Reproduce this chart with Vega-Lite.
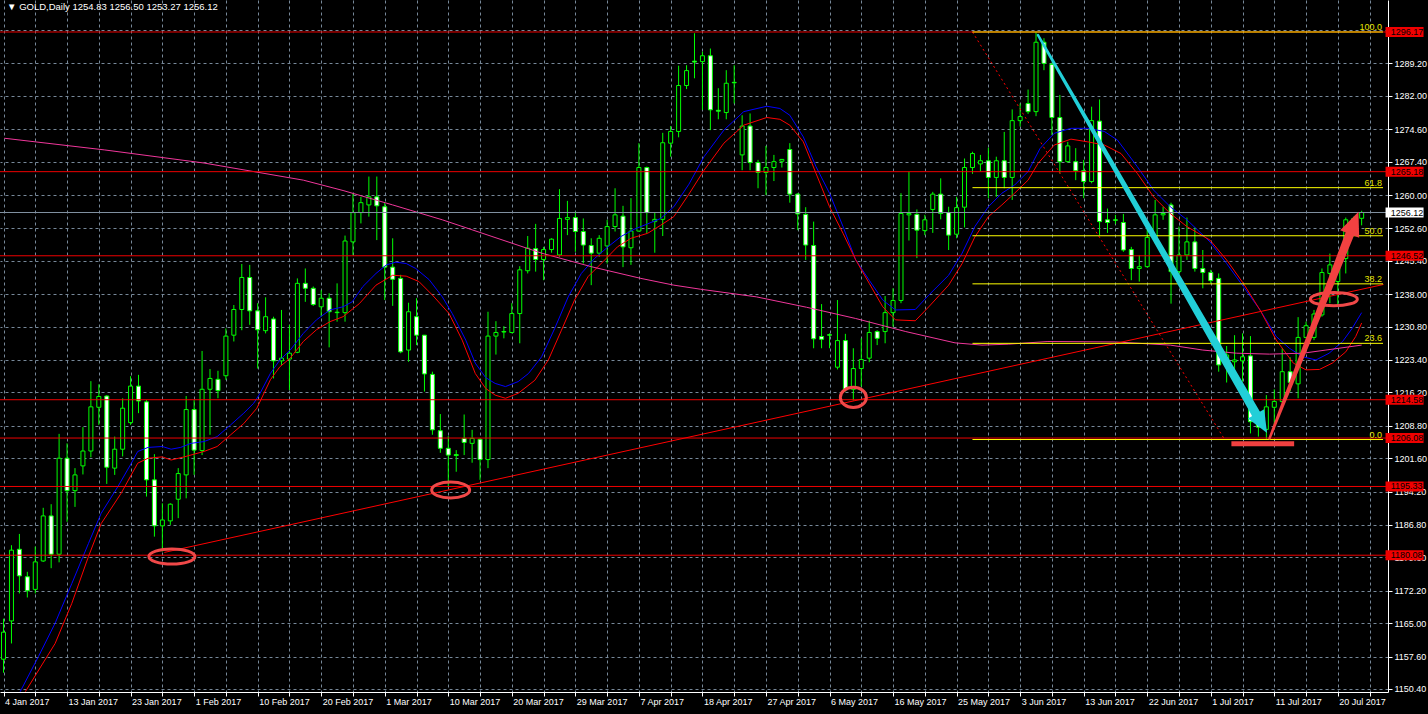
{
"$schema": "https://vega.github.io/schema/vega-lite/v6.json",
"width": 1388, "height": 692,
"autosize": {"type": "none"},
"padding": {"left": 0, "top": 0, "right": 40, "bottom": 22},
"background": "#000000",
"config": {"view": {"stroke": null}, "font": "Liberation Sans"},
"resolve": {"scale": {"color": "independent", "size": "independent"}},
"datasets": {
"candles": [
{"i":0,"o":1157,"h":1166,"l":1154,"c":1163},
{"i":1,"o":1165.5,"h":1182.3,"l":1160.5,"c":1181.2},
{"i":2,"o":1181.4,"h":1184.8,"l":1171.6,"c":1175.5},
{"i":3,"o":1175.3,"h":1176.4,"l":1170.7,"c":1172.2},
{"i":4,"o":1172.5,"h":1182.0,"l":1171.6,"c":1178.6},
{"i":5,"o":1178.8,"h":1190.6,"l":1178.6,"c":1188.8},
{"i":6,"o":1188.8,"h":1191.4,"l":1177.2,"c":1180.3},
{"i":7,"o":1180.3,"h":1207.0,"l":1178.5,"c":1201.6},
{"i":8,"o":1201.6,"h":1204.9,"l":1187.5,"c":1194.4},
{"i":9,"o":1194.4,"h":1199.4,"l":1190.8,"c":1197.9},
{"i":10,"o":1199.9,"h":1208.5,"l":1198.0,"c":1203.2},
{"i":11,"o":1203.2,"h":1218.7,"l":1201.8,"c":1213.0},
{"i":12,"o":1212.9,"h":1218.0,"l":1209.0,"c":1215.3},
{"i":13,"o":1215.4,"h":1215.6,"l":1195.9,"c":1199.6},
{"i":14,"o":1199.4,"h":1206.4,"l":1197.9,"c":1203.6},
{"i":15,"o":1203.6,"h":1214.9,"l":1202.0,"c":1212.7},
{"i":16,"o":1209.5,"h":1219.8,"l":1209.0,"c":1217.6},
{"i":17,"o":1217.6,"h":1220.1,"l":1211.6,"c":1214.3},
{"i":18,"o":1214.1,"h":1214.5,"l":1193.1,"c":1196.8},
{"i":19,"o":1196.8,"h":1202.5,"l":1184.2,"c":1186.6},
{"i":20,"o":1186.6,"h":1191.6,"l":1180.9,"c":1187.9},
{"i":21,"o":1187.7,"h":1191.6,"l":1186.8,"c":1191.4},
{"i":22,"o":1192.5,"h":1199.4,"l":1188.3,"c":1198.2},
{"i":23,"o":1197.9,"h":1215.4,"l":1192.7,"c":1212.4},
{"i":24,"o":1212.4,"h":1214.5,"l":1197.9,"c":1203.4},
{"i":25,"o":1203.3,"h":1225.4,"l":1202.3,"c":1216.9},
{"i":26,"o":1216.9,"h":1221.4,"l":1206.8,"c":1219.3},
{"i":27,"o":1219.1,"h":1221.0,"l":1214.9,"c":1216.6},
{"i":28,"o":1219.9,"h":1230.4,"l":1219.0,"c":1228.7},
{"i":29,"o":1228.9,"h":1235.6,"l":1227.5,"c":1234.6},
{"i":30,"o":1234.6,"h":1244.7,"l":1230.0,"c":1241.7},
{"i":31,"o":1241.7,"h":1244.5,"l":1231.2,"c":1234.3},
{"i":32,"o":1234.3,"h":1236.0,"l":1221.5,"c":1230.1},
{"i":33,"o":1229.9,"h":1237.3,"l":1229.3,"c":1233.0},
{"i":34,"o":1232.5,"h":1233.0,"l":1219.3,"c":1223.2},
{"i":35,"o":1223.2,"h":1234.5,"l":1222.3,"c":1223.8},
{"i":36,"o":1223.6,"h":1231.2,"l":1216.7,"c":1224.9},
{"i":37,"o":1225.1,"h":1241.5,"l":1224.9,"c":1240.4},
{"i":38,"o":1240.4,"h":1243.7,"l":1236.3,"c":1239.3},
{"i":39,"o":1239.3,"h":1239.7,"l":1235.4,"c":1235.7},
{"i":40,"o":1235.2,"h":1238.9,"l":1233.0,"c":1237.1},
{"i":41,"o":1237.1,"h":1238.2,"l":1226.2,"c":1234.1},
{"i":42,"o":1234.0,"h":1240.4,"l":1231.9,"c":1233.9},
{"i":43,"o":1233.9,"h":1251.0,"l":1231.9,"c":1249.8},
{"i":44,"o":1249.6,"h":1260.4,"l":1246.7,"c":1256.1},
{"i":45,"o":1256.1,"h":1259.6,"l":1253.7,"c":1258.3},
{"i":46,"o":1257.8,"h":1264.1,"l":1255.2,"c":1259.6},
{"i":47,"o":1259.6,"h":1264.1,"l":1250.0,"c":1257.6},
{"i":48,"o":1257.4,"h":1258.3,"l":1236.7,"c":1244.0},
{"i":49,"o":1244.0,"h":1250.4,"l":1235.4,"c":1241.3},
{"i":50,"o":1241.5,"h":1242.3,"l":1224.9,"c":1225.2},
{"i":51,"o":1225.6,"h":1236.1,"l":1223.0,"c":1234.1},
{"i":52,"o":1233.0,"h":1237.1,"l":1226.7,"c":1228.9},
{"i":53,"o":1228.9,"h":1228.9,"l":1216.4,"c":1220.3},
{"i":54,"o":1220.2,"h":1220.8,"l":1206.8,"c":1207.9},
{"i":55,"o":1207.7,"h":1211.4,"l":1202.8,"c":1203.8},
{"i":56,"o":1203.8,"h":1206.5,"l":1195.3,"c":1202.3},
{"i":57,"o":1202.4,"h":1203.4,"l":1198.6,"c":1202.2},
{"i":58,"o":1206.0,"h":1211.3,"l":1202.3,"c":1205.1},
{"i":59,"o":1204.9,"h":1207.9,"l":1200.6,"c":1206.0},
{"i":60,"o":1205.8,"h":1206.0,"l":1196.8,"c":1201.3},
{"i":61,"o":1201.3,"h":1234.1,"l":1199.4,"c":1228.7},
{"i":62,"o":1228.7,"h":1232.0,"l":1224.6,"c":1229.5},
{"i":63,"o":1229.7,"h":1230.9,"l":1228.2,"c":1229.6},
{"i":64,"o":1229.5,"h":1236.0,"l":1229.3,"c":1233.7},
{"i":65,"o":1233.7,"h":1244.2,"l":1227.1,"c":1243.4},
{"i":66,"o":1243.2,"h":1250.9,"l":1242.6,"c":1248.2},
{"i":67,"o":1248.1,"h":1253.6,"l":1243.0,"c":1245.7},
{"i":68,"o":1245.7,"h":1248.5,"l":1241.1,"c":1247.9},
{"i":69,"o":1247.9,"h":1250.4,"l":1247.2,"c":1250.2},
{"i":70,"o":1246.7,"h":1261.3,"l":1246.3,"c":1254.8},
{"i":71,"o":1254.6,"h":1258.7,"l":1251.1,"c":1255.0},
{"i":72,"o":1255.0,"h":1256.3,"l":1247.4,"c":1251.9},
{"i":73,"o":1251.9,"h":1254.8,"l":1244.8,"c":1248.9},
{"i":74,"o":1248.8,"h":1250.4,"l":1240.0,"c":1247.1},
{"i":75,"o":1247.1,"h":1251.1,"l":1246.3,"c":1250.4},
{"i":76,"o":1248.7,"h":1254.5,"l":1244.8,"c":1253.0},
{"i":77,"o":1253.0,"h":1261.5,"l":1251.9,"c":1255.6},
{"i":78,"o":1255.3,"h":1257.6,"l":1244.0,"c":1248.5},
{"i":79,"o":1248.3,"h":1259.3,"l":1244.5,"c":1252.0},
{"i":80,"o":1252.0,"h":1271.5,"l":1251.9,"c":1266.1},
{"i":81,"o":1266.1,"h":1266.3,"l":1251.5,"c":1256.1},
{"i":82,"o":1254.1,"h":1256.1,"l":1247.2,"c":1254.6},
{"i":83,"o":1254.6,"h":1273.8,"l":1250.9,"c":1271.6},
{"i":84,"o":1271.5,"h":1275.3,"l":1268.5,"c":1274.1},
{"i":85,"o":1274.1,"h":1288.7,"l":1272.8,"c":1284.3},
{"i":86,"o":1284.3,"h":1288.8,"l":1283.5,"c":1287.6},
{"i":87,"o":1289.7,"h":1295.9,"l":1285.9,"c":1289.5},
{"i":88,"o":1289.6,"h":1291.8,"l":1278.9,"c":1290.9},
{"i":89,"o":1290.9,"h":1292.5,"l":1274.4,"c":1278.9},
{"i":90,"o":1278.8,"h":1283.7,"l":1276.8,"c":1278.6},
{"i":91,"o":1278.3,"h":1287.7,"l":1276.8,"c":1284.8},
{"i":92,"o":1285.0,"h":1288.8,"l":1280.3,"c":1284.9},
{"i":93,"o":1268.9,"h":1277.7,"l":1265.5,"c":1275.3},
{"i":94,"o":1275.3,"h":1278.1,"l":1265.5,"c":1267.2},
{"i":95,"o":1267.2,"h":1267.8,"l":1261.5,"c":1265.0},
{"i":96,"o":1265.0,"h":1270.9,"l":1260.0,"c":1266.1},
{"i":97,"o":1266.1,"h":1268.9,"l":1263.1,"c":1267.4},
{"i":98,"o":1267.5,"h":1268.0,"l":1266.1,"c":1267.9},
{"i":99,"o":1270.1,"h":1271.5,"l":1258.3,"c":1260.2},
{"i":100,"o":1260.2,"h":1260.4,"l":1252.2,"c":1255.8},
{"i":101,"o":1255.7,"h":1257.3,"l":1245.6,"c":1248.9},
{"i":102,"o":1248.8,"h":1254.1,"l":1226.0,"c":1228.1},
{"i":103,"o":1228.6,"h":1235.8,"l":1226.0,"c":1228.0},
{"i":104,"o":1229.0,"h":1229.3,"l":1226.0,"c":1228.9},
{"i":105,"o":1221.8,"h":1236.7,"l":1221.3,"c":1227.7},
{"i":106,"o":1227.7,"h":1229.2,"l":1216.4,"c":1216.9},
{"i":107,"o":1216.9,"h":1226.0,"l":1214.4,"c":1221.5},
{"i":108,"o":1221.5,"h":1228.2,"l":1217.5,"c":1223.5},
{"i":109,"o":1223.8,"h":1232.1,"l":1222.9,"c":1229.5},
{"i":110,"o":1229.7,"h":1230.0,"l":1226.7,"c":1228.2},
{"i":111,"o":1229.7,"h":1237.6,"l":1227.1,"c":1233.9},
{"i":112,"o":1233.9,"h":1239.3,"l":1230.8,"c":1236.6},
{"i":113,"o":1236.6,"h":1260.4,"l":1236.0,"c":1255.9},
{"i":114,"o":1255.6,"h":1265.2,"l":1249.9,"c":1255.9},
{"i":115,"o":1255.7,"h":1256.8,"l":1246.0,"c":1252.2},
{"i":116,"o":1252.1,"h":1255.6,"l":1251.1,"c":1254.5},
{"i":117,"o":1256.8,"h":1260.7,"l":1251.6,"c":1260.2},
{"i":118,"o":1260.2,"h":1263.7,"l":1254.6,"c":1255.9},
{"i":119,"o":1256.1,"h":1257.4,"l":1247.8,"c":1251.1},
{"i":120,"o":1251.3,"h":1259.6,"l":1250.4,"c":1257.2},
{"i":121,"o":1257.3,"h":1268.1,"l":1252.8,"c":1266.1},
{"i":122,"o":1266.1,"h":1269.6,"l":1264.7,"c":1269.2},
{"i":123,"o":1266.9,"h":1268.9,"l":1265.2,"c":1267.6},
{"i":124,"o":1267.6,"h":1270.5,"l":1259.3,"c":1263.9},
{"i":125,"o":1263.9,"h":1268.5,"l":1259.6,"c":1267.6},
{"i":126,"o":1267.6,"h":1274.0,"l":1261.5,"c":1263.9},
{"i":127,"o":1263.9,"h":1279.0,"l":1258.9,"c":1276.5},
{"i":128,"o":1276.5,"h":1280.3,"l":1275.2,"c":1277.4},
{"i":129,"o":1280.3,"h":1283.4,"l":1278.0,"c":1278.5},
{"i":130,"o":1278.5,"h":1296.1,"l":1277.5,"c":1293.9},
{"i":131,"o":1293.9,"h":1294.8,"l":1287.7,"c":1289.2},
{"i":132,"o":1289.0,"h":1289.4,"l":1273.3,"c":1277.2},
{"i":133,"o":1277.2,"h":1282.2,"l":1264.8,"c":1267.4},
{"i":134,"o":1267.4,"h":1271.8,"l":1267.2,"c":1270.9},
{"i":135,"o":1267.4,"h":1270.4,"l":1263.3,"c":1265.4},
{"i":136,"o":1265.4,"h":1267.8,"l":1259.3,"c":1263.0},
{"i":137,"o":1263.0,"h":1279.6,"l":1262.6,"c":1276.5},
{"i":138,"o":1276.4,"h":1281.2,"l":1251.1,"c":1254.1},
{"i":139,"o":1254.5,"h":1257.0,"l":1251.6,"c":1253.9},
{"i":140,"o":1254.5,"h":1255.6,"l":1253.6,"c":1254.4},
{"i":141,"o":1253.9,"h":1255.8,"l":1247.4,"c":1247.8},
{"i":142,"o":1247.9,"h":1248.5,"l":1241.1,"c":1243.7},
{"i":143,"o":1243.7,"h":1246.7,"l":1240.8,"c":1244.1},
{"i":144,"o":1244.1,"h":1253.0,"l":1243.9,"c":1250.6},
{"i":145,"o":1250.6,"h":1258.9,"l":1249.3,"c":1255.6},
{"i":146,"o":1255.6,"h":1257.4,"l":1254.5,"c":1255.9},
{"i":147,"o":1257.8,"h":1258.3,"l":1235.9,"c":1243.0},
{"i":148,"o":1243.0,"h":1253.0,"l":1242.3,"c":1246.7},
{"i":149,"o":1246.7,"h":1255.0,"l":1245.6,"c":1249.6},
{"i":150,"o":1249.6,"h":1252.8,"l":1243.0,"c":1243.7},
{"i":151,"o":1243.7,"h":1247.8,"l":1239.3,"c":1242.8},
{"i":152,"o":1242.8,"h":1243.4,"l":1240.4,"c":1241.0},
{"i":153,"o":1241.5,"h":1242.6,"l":1220.8,"c":1222.3},
{"i":154,"o":1222.5,"h":1226.5,"l":1218.4,"c":1224.5},
{"i":155,"o":1223.0,"h":1228.9,"l":1220.4,"c":1223.4},
{"i":156,"o":1223.2,"h":1229.3,"l":1218.6,"c":1224.1},
{"i":157,"o":1224.3,"h":1228.7,"l":1207.1,"c":1209.7},
{"i":158,"o":1209.7,"h":1212.0,"l":1206.4,"c":1208.5},
{"i":159,"o":1208.0,"h":1215.6,"l":1205.8,"c":1213.0},
{"i":160,"o":1212.9,"h":1216.9,"l":1208.2,"c":1214.2},
{"i":161,"o":1214.2,"h":1226.0,"l":1213.9,"c":1220.8},
{"i":162,"o":1220.8,"h":1224.0,"l":1216.4,"c":1218.4},
{"i":163,"o":1218.1,"h":1232.9,"l":1214.9,"c":1228.4},
{"i":164,"o":1228.4,"h":1231.9,"l":1228.2,"c":1231.0},
{"i":165,"o":1228.4,"h":1234.5,"l":1227.8,"c":1233.6},
{"i":166,"o":1233.4,"h":1243.7,"l":1233.0,"c":1242.8},
{"i":167,"o":1242.6,"h":1247.0,"l":1236.0,"c":1244.5},
{"i":168,"o":1240.8,"h":1244.8,"l":1235.6,"c":1244.5},
{"i":169,"o":1245.9,"h":1255.0,"l":1242.6,"c":1254.5},
{"i":170,"o":1254.5,"h":1255.2,"l":1254.3,"c":1254.8},
{"i":171,"o":1254.83,"h":1256.5,"l":1253.27,"c":1256.12}
],
"ma": [
{"s":"fast","i":2.1,"v":1149.8},{"s":"fast","i":4.4,"v":1157.6},{"s":"fast","i":6.5,"v":1165.0},{"s":"fast","i":8.6,"v":1173.8},{"s":"fast","i":10.7,"v":1182.7},{"s":"fast","i":12.3,"v":1189.4},{"s":"fast","i":14.4,"v":1195.3},{"s":"fast","i":16.1,"v":1200.5},{"s":"fast","i":16.9,"v":1203.1},{"s":"fast","i":18.2,"v":1204.0},{"s":"fast","i":20.0,"v":1204.2},{"s":"fast","i":21.1,"v":1203.6},{"s":"fast","i":22.3,"v":1204.0},{"s":"fast","i":23.6,"v":1204.9},{"s":"fast","i":25.25,"v":1205.3},{"s":"fast","i":26.9,"v":1206.4},{"s":"fast","i":28.6,"v":1209.0},{"s":"fast","i":30.25,"v":1211.6},{"s":"fast","i":31.5,"v":1213.8},{"s":"fast","i":32.3,"v":1216.0},{"s":"fast","i":33.6,"v":1220.4},{"s":"fast","i":34.8,"v":1223.4},{"s":"fast","i":36.1,"v":1225.6},{"s":"fast","i":37.75,"v":1229.3},{"s":"fast","i":39.4,"v":1232.3},{"s":"fast","i":41.1,"v":1234.5},{"s":"fast","i":42.75,"v":1235.2},{"s":"fast","i":43.9,"v":1236.3},{"s":"fast","i":45.25,"v":1239.7},{"s":"fast","i":46.9,"v":1242.6},{"s":"fast","i":48.2,"v":1244.5},{"s":"fast","i":49.4,"v":1245.1},{"s":"fast","i":50.7,"v":1244.8},{"s":"fast","i":51.9,"v":1243.7},{"s":"fast","i":53.6,"v":1241.2},{"s":"fast","i":55.25,"v":1237.4},{"s":"fast","i":56.5,"v":1233.7},{"s":"fast","i":58.2,"v":1227.8},{"s":"fast","i":59.4,"v":1222.7},{"s":"fast","i":60.7,"v":1219.5},{"s":"fast","i":61.9,"v":1218.2},{"s":"fast","i":63.2,"v":1217.5},{"s":"fast","i":64.8,"v":1218.6},{"s":"fast","i":66.1,"v":1220.4},{"s":"fast","i":67.75,"v":1224.1},{"s":"fast","i":69.4,"v":1230.4},{"s":"fast","i":71.1,"v":1237.4},{"s":"fast","i":72.75,"v":1242.6},{"s":"fast","i":74.4,"v":1245.9},{"s":"fast","i":76.1,"v":1248.5},{"s":"fast","i":77.75,"v":1250.8},{"s":"fast","i":79.4,"v":1252.4},{"s":"fast","i":81.1,"v":1253.6},{"s":"fast","i":82.75,"v":1254.8},{"s":"fast","i":84.4,"v":1257.4},{"s":"fast","i":86.3,"v":1262.4},{"s":"fast","i":88.2,"v":1268.5},{"s":"fast","i":90.7,"v":1274.4},{"s":"fast","i":93.2,"v":1278.5},{"s":"fast","i":96.1,"v":1279.7},{"s":"fast","i":97.75,"v":1279.2},{"s":"fast","i":99,"v":1277.7},{"s":"fast","i":100.7,"v":1272.9},{"s":"fast","i":102.3,"v":1266.3},{"s":"fast","i":104,"v":1260.4},{"s":"fast","i":105.7,"v":1253.0},{"s":"fast","i":107.3,"v":1245.6},{"s":"fast","i":109,"v":1241.1},{"s":"fast","i":110.7,"v":1236.7},{"s":"fast","i":112.3,"v":1234.5},{"s":"fast","i":114.8,"v":1234.6},{"s":"fast","i":116.5,"v":1237.8},{"s":"fast","i":119,"v":1242.2},{"s":"fast","i":120.7,"v":1247.1},{"s":"fast","i":122.3,"v":1253.0},{"s":"fast","i":124,"v":1257.4},{"s":"fast","i":125.7,"v":1260.4},{"s":"fast","i":127.3,"v":1262.2},{"s":"fast","i":129,"v":1265.2},{"s":"fast","i":130.5,"v":1270.3},{"s":"fast","i":132.3,"v":1273.7},{"s":"fast","i":134.4,"v":1274.8},{"s":"fast","i":136.5,"v":1274.8},{"s":"fast","i":138.6,"v":1274.1},{"s":"fast","i":140.25,"v":1272.2},{"s":"fast","i":142.75,"v":1266.3},{"s":"fast","i":144.8,"v":1261.1},{"s":"fast","i":146.9,"v":1257.4},{"s":"fast","i":149,"v":1254.5},{"s":"fast","i":151.9,"v":1249.6},{"s":"fast","i":154,"v":1244.8},{"s":"fast","i":156.1,"v":1239.7},{"s":"fast","i":158.2,"v":1234.5},{"s":"fast","i":160.25,"v":1228.6},{"s":"fast","i":161.9,"v":1226.0},{"s":"fast","i":163.6,"v":1224.1},{"s":"fast","i":165.25,"v":1223.4},{"s":"fast","i":166.9,"v":1224.9},{"s":"fast","i":168.6,"v":1227.5},{"s":"fast","i":169.8,"v":1230.4},{"s":"fast","i":171,"v":1233.9},
{"s":"slow","i":2.75,"v":1149.8},{"s":"slow","i":6.5,"v":1160.5},{"s":"slow","i":8.6,"v":1169.4},{"s":"slow","i":10.7,"v":1179.8},{"s":"slow","i":12.3,"v":1187.1},{"s":"slow","i":14.8,"v":1193.8},{"s":"slow","i":16.9,"v":1200.5},{"s":"slow","i":18.2,"v":1201.6},{"s":"slow","i":20.0,"v":1201.9},{"s":"slow","i":21.1,"v":1201.2},{"s":"slow","i":22.75,"v":1201.9},{"s":"slow","i":25.25,"v":1203.1},{"s":"slow","i":26.9,"v":1204.2},{"s":"slow","i":28.6,"v":1206.8},{"s":"slow","i":30.25,"v":1209.3},{"s":"slow","i":31.9,"v":1212.7},{"s":"slow","i":33.6,"v":1219.0},{"s":"slow","i":34.8,"v":1221.9},{"s":"slow","i":36.1,"v":1223.8},{"s":"slow","i":37.75,"v":1227.5},{"s":"slow","i":39.4,"v":1230.1},{"s":"slow","i":41.1,"v":1231.9},{"s":"slow","i":42.75,"v":1233.0},{"s":"slow","i":44.8,"v":1235.9},{"s":"slow","i":46.9,"v":1240.0},{"s":"slow","i":49,"v":1242.2},{"s":"slow","i":50.7,"v":1242.0},{"s":"slow","i":52.3,"v":1240.8},{"s":"slow","i":54,"v":1237.8},{"s":"slow","i":56.1,"v":1233.7},{"s":"slow","i":57.75,"v":1227.8},{"s":"slow","i":59.4,"v":1220.4},{"s":"slow","i":60.7,"v":1217.1},{"s":"slow","i":61.9,"v":1215.6},{"s":"slow","i":63.2,"v":1214.9},{"s":"slow","i":64.8,"v":1216.0},{"s":"slow","i":66.9,"v":1218.9},{"s":"slow","i":68.6,"v":1223.4},{"s":"slow","i":70.25,"v":1230.0},{"s":"slow","i":71.9,"v":1236.7},{"s":"slow","i":73.6,"v":1241.9},{"s":"slow","i":75.7,"v":1245.6},{"s":"slow","i":77.3,"v":1248.5},{"s":"slow","i":79,"v":1250.4},{"s":"slow","i":81.1,"v":1251.5},{"s":"slow","i":82.75,"v":1253.3},{"s":"slow","i":84.4,"v":1255.2},{"s":"slow","i":86.3,"v":1260.2},{"s":"slow","i":88.2,"v":1265.5},{"s":"slow","i":90.7,"v":1271.5},{"s":"slow","i":93.2,"v":1275.5},{"s":"slow","i":96.1,"v":1277.2},{"s":"slow","i":97.75,"v":1276.8},{"s":"slow","i":99,"v":1275.5},{"s":"slow","i":100.7,"v":1271.8},{"s":"slow","i":102.3,"v":1264.8},{"s":"slow","i":104,"v":1257.4},{"s":"slow","i":105.7,"v":1251.5},{"s":"slow","i":107.3,"v":1245.6},{"s":"slow","i":109,"v":1240.4},{"s":"slow","i":110.7,"v":1235.2},{"s":"slow","i":112.3,"v":1232.3},{"s":"slow","i":114.8,"v":1232.1},{"s":"slow","i":116.5,"v":1235.2},{"s":"slow","i":119,"v":1240.0},{"s":"slow","i":120.7,"v":1244.8},{"s":"slow","i":122.3,"v":1250.7},{"s":"slow","i":124,"v":1255.2},{"s":"slow","i":125.7,"v":1257.8},{"s":"slow","i":127.3,"v":1260.4},{"s":"slow","i":129,"v":1263.3},{"s":"slow","i":130.25,"v":1267.0},{"s":"slow","i":132.3,"v":1271.1},{"s":"slow","i":134.4,"v":1272.4},{"s":"slow","i":136.5,"v":1271.8},{"s":"slow","i":138.6,"v":1271.1},{"s":"slow","i":140.7,"v":1269.2},{"s":"slow","i":142.75,"v":1264.8},{"s":"slow","i":144.8,"v":1259.6},{"s":"slow","i":146.9,"v":1255.9},{"s":"slow","i":149,"v":1253.0},{"s":"slow","i":151.9,"v":1250.0},{"s":"slow","i":154,"v":1245.6},{"s":"slow","i":156.1,"v":1240.4},{"s":"slow","i":158.2,"v":1234.5},{"s":"slow","i":160.25,"v":1227.8},{"s":"slow","i":162.4,"v":1222.7},{"s":"slow","i":164,"v":1221.2},{"s":"slow","i":165.7,"v":1221.3},{"s":"slow","i":167.3,"v":1222.7},{"s":"slow","i":169,"v":1225.2},{"s":"slow","i":170.25,"v":1228.6},{"s":"slow","i":171,"v":1231.6},
{"s":"long","i":0.1,"v":1272.6},{"s":"long","i":12.75,"v":1270.0},{"s":"long","i":25.25,"v":1267.1},{"s":"long","i":37.75,"v":1263.3},{"s":"long","i":42.75,"v":1261.0},{"s":"long","i":49,"v":1257.8},{"s":"long","i":55.25,"v":1254.5},{"s":"long","i":61.5,"v":1250.8},{"s":"long","i":67.75,"v":1247.1},{"s":"long","i":74,"v":1244.1},{"s":"long","i":80.25,"v":1241.5},{"s":"long","i":84.4,"v":1240.0},{"s":"long","i":87.75,"v":1239.1},{"s":"long","i":94.8,"v":1237.4},{"s":"long","i":101.1,"v":1235.1},{"s":"long","i":107.3,"v":1232.6},{"s":"long","i":113.6,"v":1229.7},{"s":"long","i":119.8,"v":1227.2},{"s":"long","i":123.2,"v":1226.7},{"s":"long","i":126.5,"v":1226.9},{"s":"long","i":131.5,"v":1227.5},{"s":"long","i":140,"v":1227.4},{"s":"long","i":146.9,"v":1226.7},{"s":"long","i":151,"v":1225.6},{"s":"long","i":155.25,"v":1224.9},{"s":"long","i":159.4,"v":1224.7},{"s":"long","i":163.6,"v":1224.9},{"s":"long","i":166.5,"v":1225.6},{"s":"long","i":171,"v":1226.7}
],
"hlines": [
{"p":1296.17,"k":"level"},{"p":1265.18,"k":"level"},{"p":1256.12,"k":"bid"},{"p":1246.52,"k":"level"},{"p":1214.58,"k":"level"},{"p":1206.08,"k":"level"},{"p":1195.33,"k":"level"},{"p":1180.08,"k":"level"}
],
"fib": [
{"lvl":"100.0","p":1296.17},{"lvl":"61.8","p":1261.63},{"lvl":"50.0","p":1250.96},{"lvl":"38.2","p":1240.29},{"lvl":"23.6","p":1227.09},{"lvl":"0.0","p":1205.75}
],
"segs": [
{"seg":"fib","i":122,"p":1296.17,"i2":153.75,"p2":1205.75},
{"seg":"trend","i":20.25,"p":1180.7,"i2":173.75,"p2":1240.15},
{"seg":"bar","i":154.6,"p":1204.8,"i2":162.5,"p2":1204.8}
],
"ellipses": [
{"id":1,"i":21.2,"p":1179.8},{"id":2,"i":56.3,"p":1194.55},{"id":3,"i":107.0,"p":1215.1},{"id":4,"i":167.5,"p":1236.9}
],
"shafts": [
{"a":"down","e":"start","i":130.25,"p":1295.5},{"a":"down","e":"end","i":157.84,"p":1211.0},
{"a":"up","e":"start","i":159.4,"p":1206.0},{"a":"up","e":"end","i":169.6,"p":1251.75}
],
"heads": [
{"a":"down","i":159.09,"p":1207.2},{"a":"up","i":170.6,"p":1256.3}
]
},
"layer": [
{
"data": {"name": "candles"},
"mark": {"type": "rule", "color": "#00ff00", "strokeWidth": 1, "clip": true},
"encoding": {
"x": {"field": "i", "type": "quantitative", "scale": {"domain": [0.1875, 173.6875], "nice": false, "zero": false},
"axis": {"orient": "bottom", "values": [0,4,8,12,16,20,24,28,32,36,40,44,48,52,56,60,64,68,72,76,80,84,88,92,96,100,104,108,112,116,120,124,128,132,136,140,144,148,152,156,160,164,168,172],
"tickCount": 500,
"grid": true, "gridColor": "#778899", "gridDash": [3,3], "gridWidth": 1,
"domain": true, "domainColor": "#ffffff", "domainWidth": 1, "ticks": true, "tickColor": "#ffffff", "tickSize": 4, "tickWidth": 1,
"labels": true, "labelColor": "#ffffff", "labelFont": "Liberation Sans", "labelFontSize": 9, "labelAlign": "left", "labelBaseline": "top", "labelPadding": 1, "labelOffset": 1,
"labelOverlap": false, "labelFlush": false, "labelBound": false, "title": null,
"labelExpr": "datum.value % 8 == 0 ? ['4 Jan 2017','13 Jan 2017','23 Jan 2017','1 Feb 2017','10 Feb 2017','20 Feb 2017','1 Mar 2017','10 Mar 2017','20 Mar 2017','29 Mar 2017','7 Apr 2017','18 Apr 2017','27 Apr 2017','6 May 2017','16 May 2017','25 May 2017','3 Jun 2017','13 Jun 2017','22 Jun 2017','1 Jul 2017','11 Jul 2017','20 Jul 2017'][datum.value / 8] : ''"}},
"y": {"field": "l", "type": "quantitative", "scale": {"domain": [1149.73, 1303.27], "nice": false, "zero": false},
"axis": {"orient": "right", "values": [1150.4,1157.6,1165.0,1172.2,1179.6,1186.8,1194.2,1201.6,1208.8,1216.2,1223.4,1230.8,1238.0,1245.4,1252.6,1260.0,1267.4,1274.6,1282.0,1289.2,1296.6],
"tickCount": 500,
"grid": true, "gridColor": "#778899", "gridDash": [3,3], "gridWidth": 1,
"domain": true, "domainColor": "#ffffff", "domainWidth": 1, "ticks": true, "tickColor": "#ffffff", "tickSize": 4, "tickWidth": 1,
"labels": true, "labelColor": "#ffffff", "labelFont": "Liberation Sans", "labelFontSize": 9, "labelPadding": 2,
"labelOverlap": false, "labelFlush": false, "labelBound": false, "title": null,
"labelExpr": "datum.value > 1295 ? '' : format(datum.value, '.2f')"}},
"y2": {"field": "h"}
}
},
{
"data": {"name": "candles"},
"mark": {"type": "bar", "width": 4, "stroke": "#00ff00", "strokeWidth": 1, "clip": true},
"encoding": {
"x": {"field": "i", "type": "quantitative", "scale": {"domain": [0.1875, 173.6875], "nice": false, "zero": false}},
"y": {"field": "o", "type": "quantitative", "scale": {"domain": [1149.73, 1303.27], "nice": false, "zero": false}},
"y2": {"field": "c"},
"fill": {"condition": {"test": "datum.c < datum.o", "value": "#ffffff"}, "value": "#000000"}
}
},
{
"data": {"name": "ma"},
"mark": {"type": "line", "strokeWidth": 1, "clip": true},
"encoding": {
"x": {"field": "i", "type": "quantitative", "scale": {"domain": [0.1875, 173.6875], "nice": false, "zero": false}},
"y": {"field": "v", "type": "quantitative", "scale": {"domain": [1149.73, 1303.27], "nice": false, "zero": false}},
"color": {"field": "s", "type": "nominal", "scale": {"domain": ["long","slow","fast"], "range": ["#f0379b","#ff0000","#0000ff"]}, "legend": null}
}
},
{
"data": {"name": "hlines"},
"transform": [{"filter": "datum.k == 'level'"}],
"mark": {"type": "rule", "strokeWidth": 1, "color": "#ee0000", "clip": true},
"encoding": {
"y": {"field": "p", "type": "quantitative", "scale": {"domain": [1149.73, 1303.27], "nice": false, "zero": false}}
}
},
{
"data": {"name": "hlines"},
"transform": [{"filter": "datum.k == 'bid'"}],
"mark": {"type": "rule", "strokeWidth": 1, "color": "#8090a0", "clip": true},
"encoding": {
"y": {"field": "p", "type": "quantitative", "scale": {"domain": [1149.73, 1303.27], "nice": false, "zero": false}}
}
},
{
"data": {"name": "segs"},
"transform": [{"filter": "datum.seg == 'trend'"}],
"mark": {"type": "rule", "color": "#ff0000", "strokeWidth": 1, "clip": true},
"encoding": {
"x": {"field": "i", "type": "quantitative", "scale": {"domain": [0.1875, 173.6875], "nice": false, "zero": false}},
"y": {"field": "p", "type": "quantitative", "scale": {"domain": [1149.73, 1303.27], "nice": false, "zero": false}},
"x2": {"field": "i2"}, "y2": {"field": "p2"}
}
},
{
"data": {"name": "segs"},
"transform": [{"filter": "datum.seg == 'fib'"}],
"mark": {"type": "rule", "color": "#ff0000", "strokeWidth": 1, "strokeDash": [2,3], "clip": true},
"encoding": {
"x": {"field": "i", "type": "quantitative", "scale": {"domain": [0.1875, 173.6875], "nice": false, "zero": false}},
"y": {"field": "p", "type": "quantitative", "scale": {"domain": [1149.73, 1303.27], "nice": false, "zero": false}},
"x2": {"field": "i2"}, "y2": {"field": "p2"}
}
},
{
"data": {"name": "fib"},
"mark": {"type": "rule", "color": "#ffff00", "strokeWidth": 1, "clip": true},
"encoding": {
"x": {"datum": 122, "type": "quantitative", "scale": {"domain": [0.1875, 173.6875], "nice": false, "zero": false}},
"x2": {"datum": 173.6875},
"y": {"field": "p", "type": "quantitative", "scale": {"domain": [1149.73, 1303.27], "nice": false, "zero": false}}
}
},
{
"data": {"name": "fib"},
"mark": {"type": "text", "color": "#e6e600", "font": "Liberation Sans", "fontSize": 9, "align": "right", "baseline": "alphabetic", "dy": -2},
"encoding": {
"x": {"datum": 173.55, "type": "quantitative", "scale": {"domain": [0.1875, 173.6875], "nice": false, "zero": false}},
"y": {"field": "p", "type": "quantitative", "scale": {"domain": [1149.73, 1303.27], "nice": false, "zero": false}},
"text": {"field": "lvl"}
}
},
{
"data": {"name": "segs"},
"transform": [{"filter": "datum.seg == 'bar'"}],
"mark": {"type": "rule", "color": "#f04040", "strokeWidth": 5, "clip": true},
"encoding": {
"x": {"field": "i", "type": "quantitative", "scale": {"domain": [0.1875, 173.6875], "nice": false, "zero": false}},
"y": {"field": "p", "type": "quantitative", "scale": {"domain": [1149.73, 1303.27], "nice": false, "zero": false}},
"x2": {"field": "i2"}
}
},
{
"data": {"name": "ellipses"},
"transform": [{"filter": "datum.id == 1"}],
"mark": {"type": "point", "filled": false, "stroke": "#f04848", "strokeWidth": 3, "opacity": 1, "size": 2116,
"shape": "M-1,0C-1,-0.182,-0.552,-0.33,0,-0.33C0.552,-0.33,1,-0.182,1,0C1,0.182,0.552,0.33,0,0.33C-0.552,0.33,-1,0.182,-1,0Z"},
"encoding": {
"x": {"field": "i", "type": "quantitative", "scale": {"domain": [0.1875, 173.6875], "nice": false, "zero": false}},
"y": {"field": "p", "type": "quantitative", "scale": {"domain": [1149.73, 1303.27], "nice": false, "zero": false}}
}
},
{
"data": {"name": "ellipses"},
"transform": [{"filter": "datum.id == 2"}],
"mark": {"type": "point", "filled": false, "stroke": "#f04848", "strokeWidth": 3, "opacity": 1, "size": 1444,
"shape": "M-1,0C-1,-0.232,-0.552,-0.42,0,-0.42C0.552,-0.42,1,-0.232,1,0C1,0.232,0.552,0.42,0,0.42C-0.552,0.42,-1,0.232,-1,0Z"},
"encoding": {
"x": {"field": "i", "type": "quantitative", "scale": {"domain": [0.1875, 173.6875], "nice": false, "zero": false}},
"y": {"field": "p", "type": "quantitative", "scale": {"domain": [1149.73, 1303.27], "nice": false, "zero": false}}
}
},
{
"data": {"name": "ellipses"},
"transform": [{"filter": "datum.id == 3"}],
"mark": {"type": "point", "filled": false, "stroke": "#f04848", "strokeWidth": 3, "opacity": 1, "size": 676,
"shape": "M-1,0C-1,-0.425,-0.552,-0.77,0,-0.77C0.552,-0.77,1,-0.425,1,0C1,0.425,0.552,0.77,0,0.77C-0.552,0.77,-1,0.425,-1,0Z"},
"encoding": {
"x": {"field": "i", "type": "quantitative", "scale": {"domain": [0.1875, 173.6875], "nice": false, "zero": false}},
"y": {"field": "p", "type": "quantitative", "scale": {"domain": [1149.73, 1303.27], "nice": false, "zero": false}}
}
},
{
"data": {"name": "ellipses"},
"transform": [{"filter": "datum.id == 4"}],
"mark": {"type": "point", "filled": false, "stroke": "#f04848", "strokeWidth": 3, "opacity": 1, "size": 2209,
"shape": "M-1,0C-1,-0.155,-0.552,-0.28,0,-0.28C0.552,-0.28,1,-0.155,1,0C1,0.155,0.552,0.28,0,0.28C-0.552,0.28,-1,0.155,-1,0Z"},
"encoding": {
"x": {"field": "i", "type": "quantitative", "scale": {"domain": [0.1875, 173.6875], "nice": false, "zero": false}},
"y": {"field": "p", "type": "quantitative", "scale": {"domain": [1149.73, 1303.27], "nice": false, "zero": false}}
}
},
{
"data": {"name": "shafts"},
"mark": {"type": "trail", "opacity": 1},
"encoding": {
"x": {"field": "i", "type": "quantitative", "scale": {"domain": [0.1875, 173.6875], "nice": false, "zero": false}},
"y": {"field": "p", "type": "quantitative", "scale": {"domain": [1149.73, 1303.27], "nice": false, "zero": false}},
"size": {"field": "e", "type": "ordinal", "scale": {"domain": ["start","end"], "range": [2.5, 9]}, "legend": null},
"color": {"field": "a", "type": "nominal", "scale": {"domain": ["down","up"], "range": ["#22cfd8","#f24141"]}, "legend": null},
"detail": {"field": "a"}
}
},
{
"data": {"name": "heads"},
"transform": [{"filter": "datum.a == 'down'"}],
"mark": {"type": "point", "filled": true, "fill": "#22cfd8", "strokeWidth": 0, "opacity": 1, "size": 484, "angle": 60, "shape": "M0,0L-2,-0.85L-2,0.85Z"},
"encoding": {
"x": {"field": "i", "type": "quantitative", "scale": {"domain": [0.1875, 173.6875], "nice": false, "zero": false}},
"y": {"field": "p", "type": "quantitative", "scale": {"domain": [1149.73, 1303.27], "nice": false, "zero": false}}
}
},
{
"data": {"name": "heads"},
"transform": [{"filter": "datum.a == 'up'"}],
"mark": {"type": "point", "filled": true, "fill": "#f24141", "strokeWidth": 0, "opacity": 1, "size": 576, "angle": 291.5, "shape": "M0,0L-2,-0.85L-2,0.85Z"},
"encoding": {
"x": {"field": "i", "type": "quantitative", "scale": {"domain": [0.1875, 173.6875], "nice": false, "zero": false}},
"y": {"field": "p", "type": "quantitative", "scale": {"domain": [1149.73, 1303.27], "nice": false, "zero": false}}
}
},
{
"data": {"name": "hlines"},
"transform": [{"filter": "datum.k == 'level'"}],
"mark": {"type": "tick", "orient": "horizontal", "size": 38, "thickness": 10, "opacity": 1, "color": "#f00000", "clip": false},
"encoding": {
"x": {"datum": 176.4, "type": "quantitative", "scale": {"domain": [0.1875, 173.6875], "nice": false, "zero": false}},
"y": {"field": "p", "type": "quantitative", "scale": {"domain": [1149.73, 1303.27], "nice": false, "zero": false}}
}
},
{
"data": {"name": "hlines"},
"transform": [{"filter": "datum.k == 'bid'"}],
"mark": {"type": "tick", "orient": "horizontal", "size": 38, "thickness": 10, "opacity": 1, "color": "#ffffff", "clip": false},
"encoding": {
"x": {"datum": 176.4, "type": "quantitative", "scale": {"domain": [0.1875, 173.6875], "nice": false, "zero": false}},
"y": {"field": "p", "type": "quantitative", "scale": {"domain": [1149.73, 1303.27], "nice": false, "zero": false}}
}
},
{
"data": {"name": "hlines"},
"mark": {"type": "text", "color": "#000000", "font": "Liberation Sans", "fontSize": 9, "align": "left", "baseline": "middle", "clip": false},
"encoding": {
"x": {"datum": 174.65, "type": "quantitative", "scale": {"domain": [0.1875, 173.6875], "nice": false, "zero": false}},
"y": {"field": "p", "type": "quantitative", "scale": {"domain": [1149.73, 1303.27], "nice": false, "zero": false}},
"text": {"field": "p", "type": "quantitative", "format": ".2f"}
}
},
{
"data": {"values": [{"t": "▼  GOLD,Daily  1254.83 1256.50 1253.27 1256.12"}]},
"mark": {"type": "text", "color": "#ffffff", "font": "Liberation Sans", "fontSize": 9.5, "align": "left", "baseline": "middle"},
"encoding": {
"x": {"datum": 0.45, "type": "quantitative", "scale": {"domain": [0.1875, 173.6875], "nice": false, "zero": false}},
"y": {"datum": 1301.75, "type": "quantitative", "scale": {"domain": [1149.73, 1303.27], "nice": false, "zero": false}},
"text": {"field": "t"}
}
}
]
}
